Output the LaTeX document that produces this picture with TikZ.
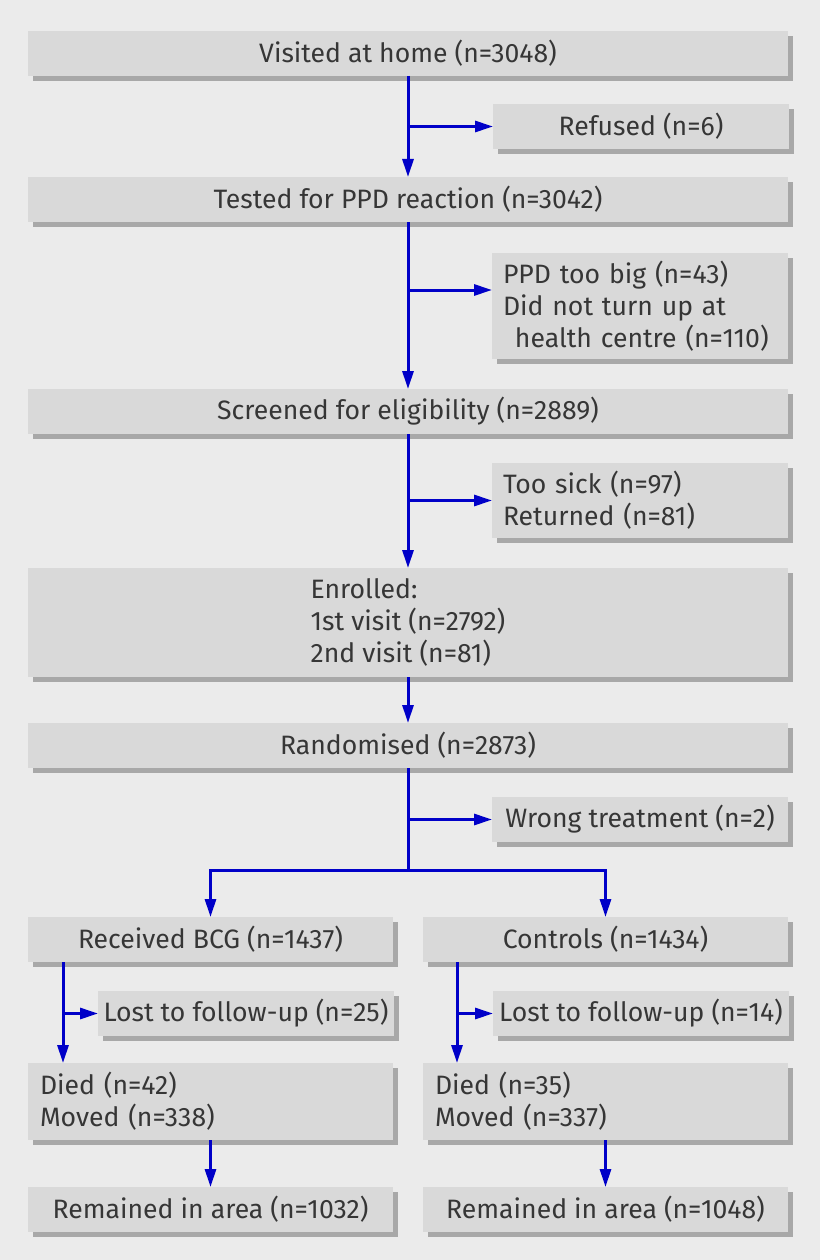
\documentclass[tikz,border=0pt]{standalone}
\usepackage{fontspec}
\setmainfont{Fira Sans}
\usetikzlibrary{arrows.meta, positioning, shadows}
\definecolor{bggrey}{HTML}{EBEBEB}
\definecolor{boxgrey}{HTML}{D9D9D9}
\definecolor{shadegrey}{HTML}{A8A8A8}
\definecolor{textgrey}{HTML}{363636}
\definecolor{flowblue}{HTML}{0000C8}

\begin{document}
\begin{tikzpicture}[
		font=\fontsize{26.6}{32}\selectfont,
		box/.style={fill=boxgrey, text=textgrey, inner sep=0pt, outer sep=0pt, minimum height=45pt, align=center,
			drop shadow={shadow xshift=5pt, shadow yshift=-5pt, fill=shadegrey, opacity=1}},
		mainbox/.style={box, minimum width=760pt},
		halfbox/.style={box, minimum width=365pt},
		sidebox/.style={box, minimum width=296pt},
		leftbox/.style={inner xsep=11pt, text width=#1, align=left},
		arrow/.style={-{Triangle[length=18pt, width=11pt]}, line width=3pt, flowblue},
		link/.style={line width=3pt, flowblue}
		]
		
		% Background
		\fill[bggrey] (0,0) rectangle (820pt,-1260pt);
		\useasboundingbox (0,0) rectangle (820pt,-1260pt);
		
		% Nodes (main column)
		\node[mainbox, anchor=north west] (visited) at (28pt,-31pt) {Visited at home (n=3048)};
		\node[mainbox, below=101pt of visited] (tested) {Tested for PPD reaction (n=3042)};
		\node[mainbox, below=167pt of tested] (screened) {Screened for eligibility (n=2889)};
		\node[mainbox, minimum height=109pt, below=134pt of screened, align=left] (enrolled) {Enrolled:\\1st visit (n=2792)\\2nd visit (n=81)};
		\node[mainbox, below=46pt of enrolled] (random) {Randomised (n=2873)};
		
		% Nodes (exclusions)
		\node[sidebox, below right=28pt and 85pt of visited.south] (refused) {Refused (n=6)};
		\node[sidebox, leftbox=274pt, minimum height=106pt, below right=31pt and 84pt of tested.south] (ppd) {PPD too big (n=43)\\Did not turn up at\\\hspace*{0.45em}health centre (n=110)};
		\node[sidebox, leftbox=274pt, minimum height=75pt, below right=29pt and 84pt of screened.south] (sick) {Too sick (n=97)\\Returned (n=81)};
		\node[sidebox, below right=29pt and 84pt of random.south] (wrong) {Wrong treatment (n=2)};
		
		% Nodes (two arms)
		\node[halfbox, below=149pt of random.south west, anchor=north west] (bcg) {Received BCG (n=1437)};
		\node[halfbox, right=30pt of bcg] (controls) {Controls (n=1434)};
		\node[sidebox, below right=29pt and 70pt of bcg.south west] (lostbcg) {Lost to follow-up (n=25)};
		\node[sidebox, below right=29pt and 70pt of controls.south west] (lostctl) {Lost to follow-up (n=14)};
		\node[halfbox, leftbox=341pt, inner xsep=12pt, minimum height=77pt, below=101pt of bcg] (diedbcg) {Died (n=42)\\Moved (n=338)};
		\node[halfbox, leftbox=341pt, inner xsep=12pt, minimum height=77pt, below=101pt of controls] (diedctl) {Died (n=35)\\Moved (n=337)};
		\node[halfbox, below=47pt of diedbcg] (remainbcg) {Remained in area (n=1032)};
		\node[halfbox, below=47pt of diedctl] (remainctl) {Remained in area (n=1048)};
		
		% Helper points
		\coordinate (ppdin) at ([yshift=-37pt]ppd.north west);
		\coordinate (split) at ([yshift=-102pt]random.south);
		\coordinate (bcgdown) at ([xshift=35pt]bcg.south west);
		\coordinate (ctldown) at ([xshift=34pt]controls.south west);
		
		% Arrows (main column)
		\draw[arrow] (visited) -- (tested);
		\draw[arrow] (tested) -- (screened);
		\draw[arrow] (screened) -- (enrolled);
		\draw[arrow] (enrolled) -- (random);
		\draw[link] (random) -- (split);
		
		% Arrows (exclusions)
		\draw[arrow] (visited.south |- refused.west) -- (refused.west);
		\draw[arrow] (tested.south |- ppdin) -- (ppdin);
		\draw[arrow] (screened.south |- sick.west) -- (sick.west);
		\draw[arrow] (random.south |- wrong.west) -- (wrong.west);
		
		% Arrows (two arms)
		\draw[arrow] (split) -| (bcg.north);
		\draw[arrow] (split) -| (controls.north);
		\draw[arrow] (bcgdown) -- (bcgdown |- diedbcg.north);
		\draw[arrow] (ctldown) -- (ctldown |- diedctl.north);
		\draw[arrow] (bcgdown |- lostbcg.west) -- (lostbcg.west);
		\draw[arrow] (ctldown |- lostctl.west) -- (lostctl.west);
		\draw[arrow] (diedbcg) -- (remainbcg);
		\draw[arrow] (diedctl) -- (remainctl);
		
	\end{tikzpicture}
\end{document}
